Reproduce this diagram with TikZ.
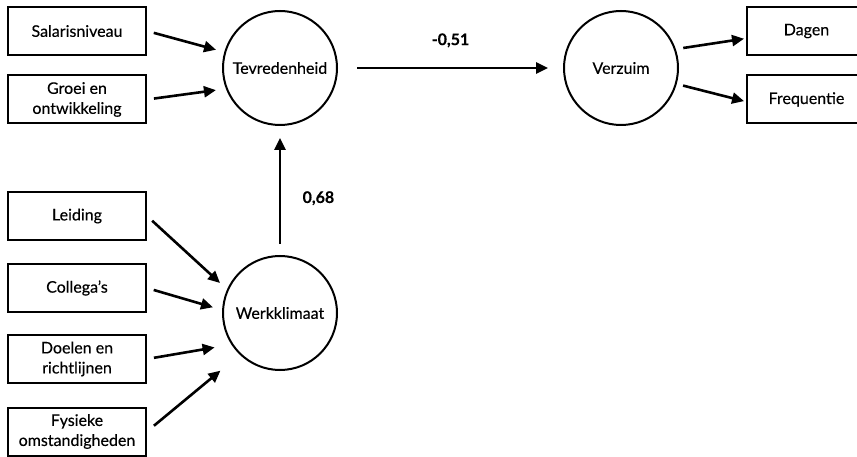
\documentclass[tikz,border=0pt]{standalone}
\usepackage{fontspec}
\setmainfont{Lato}[FakeBold=0.3]
\usetikzlibrary{arrows.meta}
\tikzset{box/.style = {draw, line width=2pt, minimum width=138pt, minimum height=48pt,
                       align=center, inner sep=0}}
\tikzset{latent/.style = {draw, circle, line width=2pt, minimum size=114pt, inner sep=0}}
\tikzset{pijl/.style = {line width=2.6pt, -{Triangle[length=12pt, width=11pt]}}}

\begin{document}
\begin{tikzpicture}[x=1pt, y=-1pt, font=\fontsize{16}{20}\selectfont]
    \clip (0, 0) rectangle (857, 457);

    \node (sal) at (77, 31) [box] {Salarisniveau};
    \node (groei) at (77, 99.5) [box] {Groei en\\ontwikkeling};
    \node (leid) at (77, 216) [box] {Leiding};
    \node (coll) at (77, 288) [box] {Collega’s};
    \node (doel) at (77, 359) [box] {Doelen en\\richtlijnen};
    \node (fys) at (77, 431.5) [box] {Fysieke\\omstandigheden};

    \node (tev) at (280, 68) [latent] {Tevredenheid};
    \node (verz) at (621, 68) [latent] {Verzuim};
    \node (werk) at (280, 313) [latent] {Werkklimaat};

    \node (dagen) at (806.5, 31) [box, minimum width=119pt] {Dagen};
    \node (freq) at (806.5, 99.5) [box, minimum width=119pt] {Frequentie};

    \draw [pijl, shorten <=7pt, shorten >=8.5pt] (sal.east) -- (tev.164);
    \draw [pijl, shorten <=7pt, shorten >=10pt] (groei.east) -- (tev.201);
    \draw [pijl, shorten <=19pt, shorten >=15pt] (tev.east) -- (verz.west)
        node (r1) [pos=0.5, above=16pt] {\bfseries -0,51};
    \draw [pijl, shorten <=11pt, shorten >=12pt] (werk.north) -- (tev.south)
        node (r2) [pos=0.44, right=18pt] {\bfseries 0,68};

    \draw [pijl, shorten <=7pt, shorten >=9.5pt] (leid.east) -- (werk.156);
    \draw [pijl, shorten <=7pt, shorten >=9.5pt] (coll.east) -- (werk.177);
    \draw [pijl, shorten <=7pt, shorten >=17pt] (doel.east) -- (werk.213);
    \draw [pijl, shorten <=9pt, shorten >=25pt] (fys.east) -- (werk.226);

    \draw [pijl, shorten <=7.5pt, shorten >=2pt] (verz.19) -- (dagen.187);
    \draw [pijl, shorten <=6.5pt, shorten >=2pt] (verz.344) -- (freq.182);
\end{tikzpicture}
\end{document}
